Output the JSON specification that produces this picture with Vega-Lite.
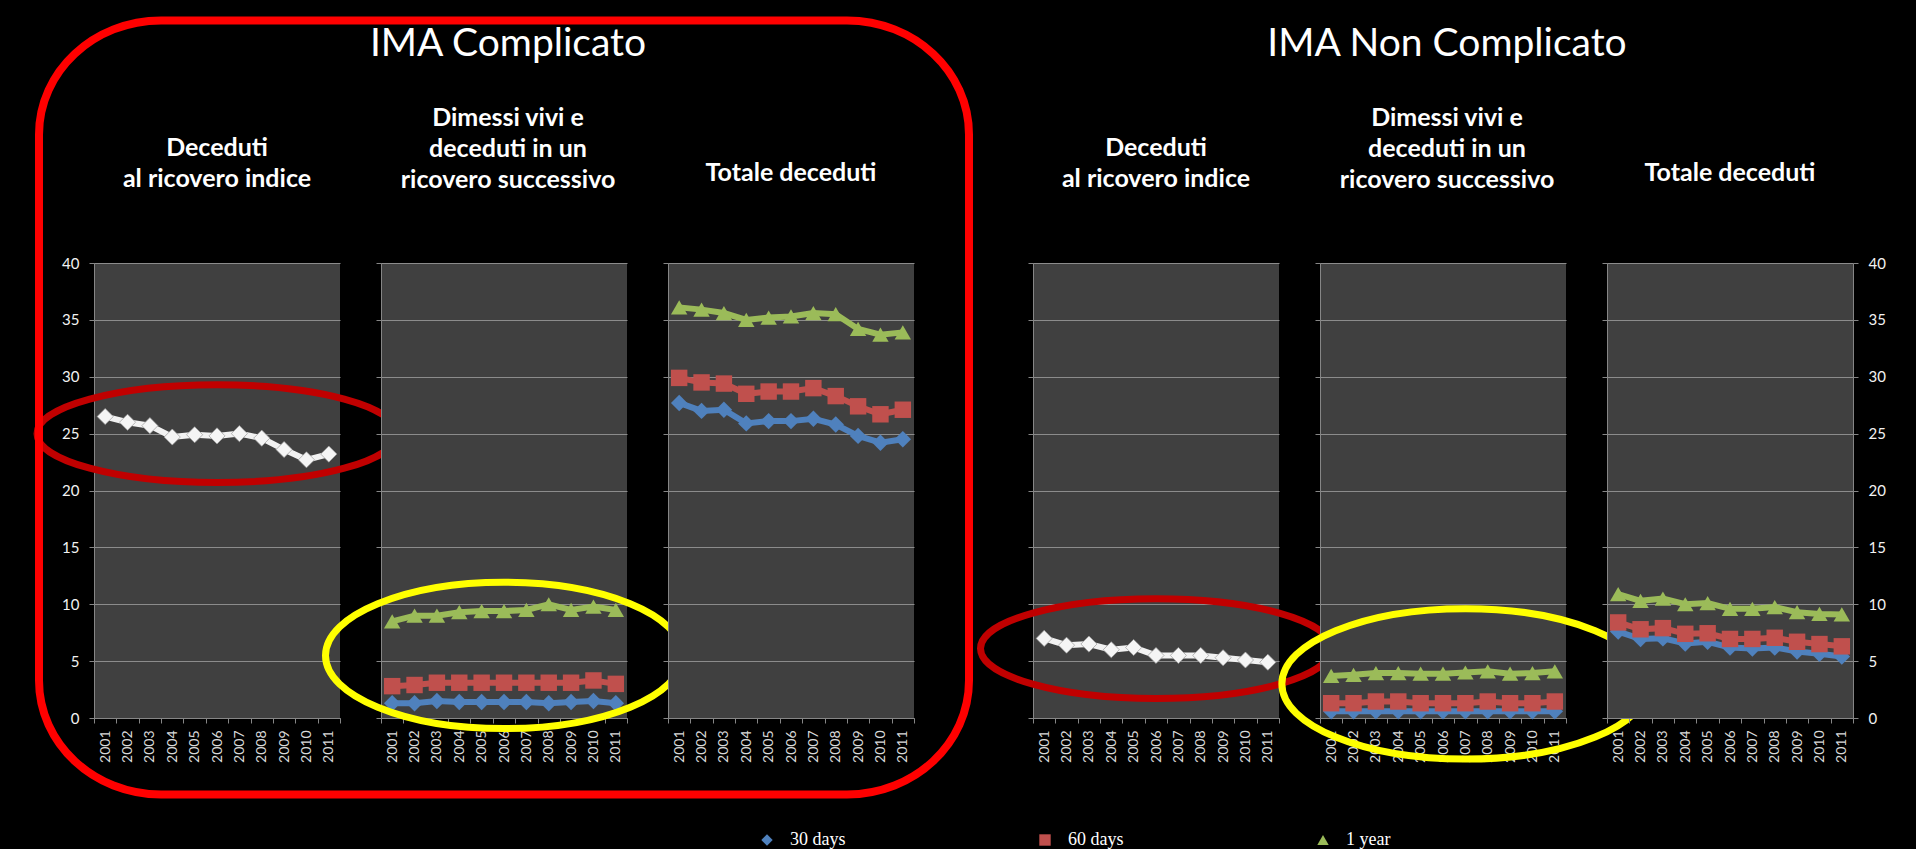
{
  "$schema": "https://vega.github.io/schema/vega-lite/v6.json",
  "background": "black",
  "padding": {"left": 23, "top": 4, "right": 32, "bottom": 0},
  "bounds": "flush",
  "align": "each",
  "columns": 7,
  "spacing": {"row": 0, "column": 41},
  "config": {
    "font": "Lato",
    "view": {"stroke": null, "fill": "#404040"},
    "title": {"color": "white", "subtitleColor": "white", "anchor": "middle", "font": "Lato", "subtitleFont": "Lato"},
    "axis": {"domainColor": "#868686", "tickColor": "#868686", "gridColor": "#8C8C8C", "labelColor": "#F2F2F2", "labelFont": "Lato", "title": null},
    "axisX": {"labelAngle": -90, "tickBand": "extent", "tickSize": 5, "labelPadding": 7, "labelFontSize": 14, "labelColor": "#D9D9D9", "grid": false},
    "axisY": {"tickSize": 5, "labelPadding": 10, "labelFontSize": 15, "grid": true}
  },
  "datasets": {
    "c1": [
      {"serie": "ricovero indice", "anno": 2001, "valore": 26.5}, {"serie": "ricovero indice", "anno": 2002, "valore": 26.0}, {"serie": "ricovero indice", "anno": 2003, "valore": 25.7}, {"serie": "ricovero indice", "anno": 2004, "valore": 24.7}, {"serie": "ricovero indice", "anno": 2005, "valore": 24.9}, {"serie": "ricovero indice", "anno": 2006, "valore": 24.8}, {"serie": "ricovero indice", "anno": 2007, "valore": 25.0}, {"serie": "ricovero indice", "anno": 2008, "valore": 24.6}, {"serie": "ricovero indice", "anno": 2009, "valore": 23.6}, {"serie": "ricovero indice", "anno": 2010, "valore": 22.7}, {"serie": "ricovero indice", "anno": 2011, "valore": 23.2}
    ],
    "c2": [
      {"serie": "30 days", "anno": 2001, "valore": 1.3}, {"serie": "30 days", "anno": 2002, "valore": 1.3}, {"serie": "30 days", "anno": 2003, "valore": 1.5}, {"serie": "30 days", "anno": 2004, "valore": 1.4}, {"serie": "30 days", "anno": 2005, "valore": 1.4}, {"serie": "30 days", "anno": 2006, "valore": 1.4}, {"serie": "30 days", "anno": 2007, "valore": 1.4}, {"serie": "30 days", "anno": 2008, "valore": 1.3}, {"serie": "30 days", "anno": 2009, "valore": 1.4}, {"serie": "30 days", "anno": 2010, "valore": 1.5}, {"serie": "30 days", "anno": 2011, "valore": 1.3},
      {"serie": "60 days", "anno": 2001, "valore": 2.8}, {"serie": "60 days", "anno": 2002, "valore": 2.9}, {"serie": "60 days", "anno": 2003, "valore": 3.1}, {"serie": "60 days", "anno": 2004, "valore": 3.1}, {"serie": "60 days", "anno": 2005, "valore": 3.1}, {"serie": "60 days", "anno": 2006, "valore": 3.1}, {"serie": "60 days", "anno": 2007, "valore": 3.1}, {"serie": "60 days", "anno": 2008, "valore": 3.1}, {"serie": "60 days", "anno": 2009, "valore": 3.1}, {"serie": "60 days", "anno": 2010, "valore": 3.3}, {"serie": "60 days", "anno": 2011, "valore": 3.0},
      {"serie": "1 year", "anno": 2001, "valore": 8.5}, {"serie": "1 year", "anno": 2002, "valore": 9.0}, {"serie": "1 year", "anno": 2003, "valore": 9.0}, {"serie": "1 year", "anno": 2004, "valore": 9.3}, {"serie": "1 year", "anno": 2005, "valore": 9.4}, {"serie": "1 year", "anno": 2006, "valore": 9.4}, {"serie": "1 year", "anno": 2007, "valore": 9.5}, {"serie": "1 year", "anno": 2008, "valore": 10.0}, {"serie": "1 year", "anno": 2009, "valore": 9.5}, {"serie": "1 year", "anno": 2010, "valore": 9.8}, {"serie": "1 year", "anno": 2011, "valore": 9.5}
    ],
    "c3": [
      {"serie": "30 days", "anno": 2001, "valore": 27.7}, {"serie": "30 days", "anno": 2002, "valore": 27.0}, {"serie": "30 days", "anno": 2003, "valore": 27.1}, {"serie": "30 days", "anno": 2004, "valore": 25.9}, {"serie": "30 days", "anno": 2005, "valore": 26.1}, {"serie": "30 days", "anno": 2006, "valore": 26.1}, {"serie": "30 days", "anno": 2007, "valore": 26.3}, {"serie": "30 days", "anno": 2008, "valore": 25.8}, {"serie": "30 days", "anno": 2009, "valore": 24.8}, {"serie": "30 days", "anno": 2010, "valore": 24.2}, {"serie": "30 days", "anno": 2011, "valore": 24.5},
      {"serie": "60 days", "anno": 2001, "valore": 29.9}, {"serie": "60 days", "anno": 2002, "valore": 29.5}, {"serie": "60 days", "anno": 2003, "valore": 29.4}, {"serie": "60 days", "anno": 2004, "valore": 28.5}, {"serie": "60 days", "anno": 2005, "valore": 28.7}, {"serie": "60 days", "anno": 2006, "valore": 28.7}, {"serie": "60 days", "anno": 2007, "valore": 29.0}, {"serie": "60 days", "anno": 2008, "valore": 28.3}, {"serie": "60 days", "anno": 2009, "valore": 27.4}, {"serie": "60 days", "anno": 2010, "valore": 26.7}, {"serie": "60 days", "anno": 2011, "valore": 27.1},
      {"serie": "1 year", "anno": 2001, "valore": 36.1}, {"serie": "1 year", "anno": 2002, "valore": 35.9}, {"serie": "1 year", "anno": 2003, "valore": 35.6}, {"serie": "1 year", "anno": 2004, "valore": 35.0}, {"serie": "1 year", "anno": 2005, "valore": 35.2}, {"serie": "1 year", "anno": 2006, "valore": 35.3}, {"serie": "1 year", "anno": 2007, "valore": 35.6}, {"serie": "1 year", "anno": 2008, "valore": 35.5}, {"serie": "1 year", "anno": 2009, "valore": 34.2}, {"serie": "1 year", "anno": 2010, "valore": 33.7}, {"serie": "1 year", "anno": 2011, "valore": 33.9}
    ],
    "n1": [
      {"serie": "ricovero indice", "anno": 2001, "valore": 7.0}, {"serie": "ricovero indice", "anno": 2002, "valore": 6.4}, {"serie": "ricovero indice", "anno": 2003, "valore": 6.5}, {"serie": "ricovero indice", "anno": 2004, "valore": 6.0}, {"serie": "ricovero indice", "anno": 2005, "valore": 6.2}, {"serie": "ricovero indice", "anno": 2006, "valore": 5.5}, {"serie": "ricovero indice", "anno": 2007, "valore": 5.5}, {"serie": "ricovero indice", "anno": 2008, "valore": 5.5}, {"serie": "ricovero indice", "anno": 2009, "valore": 5.3}, {"serie": "ricovero indice", "anno": 2010, "valore": 5.1}, {"serie": "ricovero indice", "anno": 2011, "valore": 4.9}
    ],
    "n2": [
      {"serie": "30 days", "anno": 2001, "valore": 0.6}, {"serie": "30 days", "anno": 2002, "valore": 0.6}, {"serie": "30 days", "anno": 2003, "valore": 0.6}, {"serie": "30 days", "anno": 2004, "valore": 0.6}, {"serie": "30 days", "anno": 2005, "valore": 0.6}, {"serie": "30 days", "anno": 2006, "valore": 0.6}, {"serie": "30 days", "anno": 2007, "valore": 0.6}, {"serie": "30 days", "anno": 2008, "valore": 0.6}, {"serie": "30 days", "anno": 2009, "valore": 0.6}, {"serie": "30 days", "anno": 2010, "valore": 0.6}, {"serie": "30 days", "anno": 2011, "valore": 0.6},
      {"serie": "60 days", "anno": 2001, "valore": 1.3}, {"serie": "60 days", "anno": 2002, "valore": 1.3}, {"serie": "60 days", "anno": 2003, "valore": 1.45}, {"serie": "60 days", "anno": 2004, "valore": 1.45}, {"serie": "60 days", "anno": 2005, "valore": 1.3}, {"serie": "60 days", "anno": 2006, "valore": 1.3}, {"serie": "60 days", "anno": 2007, "valore": 1.3}, {"serie": "60 days", "anno": 2008, "valore": 1.45}, {"serie": "60 days", "anno": 2009, "valore": 1.3}, {"serie": "60 days", "anno": 2010, "valore": 1.3}, {"serie": "60 days", "anno": 2011, "valore": 1.45},
      {"serie": "1 year", "anno": 2001, "valore": 3.7}, {"serie": "1 year", "anno": 2002, "valore": 3.8}, {"serie": "1 year", "anno": 2003, "valore": 3.95}, {"serie": "1 year", "anno": 2004, "valore": 3.95}, {"serie": "1 year", "anno": 2005, "valore": 3.9}, {"serie": "1 year", "anno": 2006, "valore": 3.9}, {"serie": "1 year", "anno": 2007, "valore": 4.0}, {"serie": "1 year", "anno": 2008, "valore": 4.1}, {"serie": "1 year", "anno": 2009, "valore": 3.9}, {"serie": "1 year", "anno": 2010, "valore": 3.95}, {"serie": "1 year", "anno": 2011, "valore": 4.1}
    ],
    "n3": [
      {"serie": "30 days", "anno": 2001, "valore": 7.6}, {"serie": "30 days", "anno": 2002, "valore": 6.95}, {"serie": "30 days", "anno": 2003, "valore": 7.0}, {"serie": "30 days", "anno": 2004, "valore": 6.55}, {"serie": "30 days", "anno": 2005, "valore": 6.7}, {"serie": "30 days", "anno": 2006, "valore": 6.2}, {"serie": "30 days", "anno": 2007, "valore": 6.1}, {"serie": "30 days", "anno": 2008, "valore": 6.2}, {"serie": "30 days", "anno": 2009, "valore": 5.85}, {"serie": "30 days", "anno": 2010, "valore": 5.65}, {"serie": "30 days", "anno": 2011, "valore": 5.4},
      {"serie": "60 days", "anno": 2001, "valore": 8.4}, {"serie": "60 days", "anno": 2002, "valore": 7.8}, {"serie": "60 days", "anno": 2003, "valore": 7.9}, {"serie": "60 days", "anno": 2004, "valore": 7.4}, {"serie": "60 days", "anno": 2005, "valore": 7.45}, {"serie": "60 days", "anno": 2006, "valore": 6.95}, {"serie": "60 days", "anno": 2007, "valore": 6.95}, {"serie": "60 days", "anno": 2008, "valore": 7.05}, {"serie": "60 days", "anno": 2009, "valore": 6.7}, {"serie": "60 days", "anno": 2010, "valore": 6.5}, {"serie": "60 days", "anno": 2011, "valore": 6.3},
      {"serie": "1 year", "anno": 2001, "valore": 10.9}, {"serie": "1 year", "anno": 2002, "valore": 10.3}, {"serie": "1 year", "anno": 2003, "valore": 10.5}, {"serie": "1 year", "anno": 2004, "valore": 10.0}, {"serie": "1 year", "anno": 2005, "valore": 10.1}, {"serie": "1 year", "anno": 2006, "valore": 9.6}, {"serie": "1 year", "anno": 2007, "valore": 9.6}, {"serie": "1 year", "anno": 2008, "valore": 9.75}, {"serie": "1 year", "anno": 2009, "valore": 9.3}, {"serie": "1 year", "anno": 2010, "valore": 9.15}, {"serie": "1 year", "anno": 2011, "valore": 9.1}
    ]
  },
  "concat": [
    {"data": {"values": []}, "width": 246, "height": 1, "view": {"fill": "transparent", "stroke": null}, "mark": {"type": "text", "text": ""}, "encoding": {},
     "title": {"text": ["Deceduti", "al ricovero indice"], "fontSize": 25, "fontWeight": "bold", "lineHeight": 31, "offset": 70}},
    {"data": {"values": []}, "width": 246, "height": 1, "view": {"fill": "transparent", "stroke": null}, "mark": {"type": "text", "text": ""}, "encoding": {},
     "title": {"text": "IMA Complicato", "subtitle": ["Dimessi vivi e", "deceduti in un", "ricovero successivo"], "fontSize": 39, "fontWeight": "normal", "subtitleFontSize": 25, "subtitleFontWeight": "bold", "subtitleLineHeight": 31, "subtitlePadding": 42, "offset": 69, "dx": 4}},
    {"data": {"values": []}, "width": 246, "height": 1, "view": {"fill": "transparent", "stroke": null}, "mark": {"type": "text", "text": ""}, "encoding": {},
     "title": {"text": "Totale deceduti", "fontSize": 25, "fontWeight": "bold", "offset": 76}},
    {"data": {"values": []}, "width": 37, "height": 1, "view": {"fill": "transparent", "stroke": null}, "mark": {"type": "text", "text": ""}, "encoding": {}},
    {"data": {"values": []}, "width": 246, "height": 1, "view": {"fill": "transparent", "stroke": null}, "mark": {"type": "text", "text": ""}, "encoding": {},
     "title": {"text": ["Deceduti", "al ricovero indice"], "fontSize": 25, "fontWeight": "bold", "lineHeight": 31, "offset": 70}},
    {"data": {"values": []}, "width": 246, "height": 1, "view": {"fill": "transparent", "stroke": null}, "mark": {"type": "text", "text": ""}, "encoding": {},
     "title": {"text": "IMA Non Complicato", "subtitle": ["Dimessi vivi e", "deceduti in un", "ricovero successivo"], "fontSize": 39, "fontWeight": "normal", "subtitleFontSize": 25, "subtitleFontWeight": "bold", "subtitleLineHeight": 31, "subtitlePadding": 42, "offset": 69, "dx": 4}},
    {"data": {"values": []}, "width": 246, "height": 1, "view": {"fill": "transparent", "stroke": null}, "mark": {"type": "text", "text": ""}, "encoding": {},
     "title": {"text": "Totale deceduti", "fontSize": 25, "fontWeight": "bold", "offset": 76}},
    {
      "data": {"name": "c1"},
      "width": 246, "height": 455,
      "encoding": {
        "x": {"field": "anno", "type": "ordinal", "scale": {"type": "band", "paddingInner": 0, "paddingOuter": 0}},
        "y": {"field": "valore", "type": "quantitative", "scale": {"domain": [0, 40], "nice": false}, "axis": {"values": [0, 5, 10, 15, 20, 25, 30, 35, 40]}}
      },
      "layer": [
        {"mark": {"type": "line", "strokeWidth": 6, "color": "#F2F2F2"}, "encoding": {}},
        {"mark": {"type": "point", "shape": "diamond", "filled": true, "opacity": 1, "size": 260, "color": "#F5F5F5", "stroke": "#9A9A9A", "strokeWidth": 0.7}, "encoding": {}},
        {"transform": [{"filter": "datum.anno == 2006"}], "mark": {"type": "point", "shape": "M 1 0 C 1 0.1501 0.5523 0.2717 0 0.2717 C -0.5523 0.2717 -1 0.1501 -1 0 C -1 -0.1501 -0.5523 -0.2717 0 -0.2717 C 0.5523 -0.2717 1 -0.1501 1 0 Z", "size": 129600, "filled": false, "color": "#C00000", "strokeWidth": 7, "opacity": 1}, "encoding": {"x": {"datum": 2006}, "y": {"datum": 25.0}}}
      ]
    },
    {
      "data": {"name": "c2"},
      "width": 246, "height": 455,
      "encoding": {
        "x": {"field": "anno", "type": "ordinal", "scale": {"type": "band", "paddingInner": 0, "paddingOuter": 0}},
        "y": {"field": "valore", "type": "quantitative", "scale": {"domain": [0, 40], "nice": false}, "axis": {"values": [0, 5, 10, 15, 20, 25, 30, 35, 40], "labels": false}}
      },
      "layer": [
        {"mark": {"type": "line", "strokeWidth": 6}, "encoding": {"color": {"field": "serie", "type": "nominal", "scale": {"domain": ["30 days", "60 days", "1 year"], "range": ["#4F81BD", "#C0504D", "#9BBB59"]}, "legend": {"orient": "none", "legendX": 664, "legendY": 569, "direction": "horizontal", "title": null, "labelFont": "Liberation Serif", "labelFontSize": 18, "labelColor": "white", "columnPadding": 190, "symbolSize": 130, "labelOffset": 14, "padding": 0, "symbolStrokeWidth": 0}}}},
        {"mark": {"type": "point", "filled": true, "opacity": 1, "size": 270}, "encoding": {"color": {"field": "serie", "type": "nominal", "scale": {"domain": ["30 days", "60 days", "1 year"], "range": ["#4F81BD", "#C0504D", "#9BBB59"]}, "legend": {"orient": "none", "legendX": 664, "legendY": 569, "direction": "horizontal", "title": null, "labelFont": "Liberation Serif", "labelFontSize": 18, "labelColor": "white", "columnPadding": 190, "symbolSize": 130, "labelOffset": 14, "padding": 0, "symbolStrokeWidth": 0}}, "shape": {"field": "serie", "type": "nominal", "scale": {"domain": ["30 days", "60 days", "1 year"], "range": ["diamond", "square", "triangle-up"]}, "legend": {"orient": "none", "legendX": 664, "legendY": 569, "direction": "horizontal", "title": null, "labelFont": "Liberation Serif", "labelFontSize": 18, "labelColor": "white", "columnPadding": 190, "symbolSize": 130, "labelOffset": 14, "padding": 0, "symbolStrokeWidth": 0}}}},
        {"transform": [{"filter": "datum.anno == 2006 && datum.serie == '1 year'"}], "mark": {"type": "point", "shape": "M 1 0 C 1 0.2264 0.5523 0.41 0 0.41 C -0.5523 0.41 -1 0.2264 -1 0 C -1 -0.2264 -0.5523 -0.41 0 -0.41 C 0.5523 -0.41 1 -0.2264 1 0 Z", "size": 127449, "filled": false, "color": "#FFFF00", "strokeWidth": 7, "opacity": 1}, "encoding": {"x": {"datum": 2006}, "y": {"datum": 5.5}}},
        {"transform": [{"filter": "datum.anno == 2006 && datum.serie == '1 year'"}], "mark": {"type": "point", "shape": "M -0.7376 -0.8323 L 0.7376 -0.8323 C 0.8825 -0.8323 1 -0.7225 1 -0.5871 L 1 0.5871 C 1 0.7225 0.8825 0.8323 0.7376 0.8323 L -0.7376 0.8323 C -0.8825 0.8323 -1 0.7225 -1 0.5871 L -1 -0.5871 C -1 -0.7225 -0.8825 -0.8323 -0.7376 -0.8323 Z", "size": 864900, "filled": false, "color": "#FF0000", "strokeWidth": 8, "opacity": 1}, "encoding": {"x": {"datum": 2006}, "y": {"datum": 27.3}}}
      ]
    },
    {
      "data": {"name": "c3"},
      "width": 246, "height": 455,
      "encoding": {
        "x": {"field": "anno", "type": "ordinal", "scale": {"type": "band", "paddingInner": 0, "paddingOuter": 0}},
        "y": {"field": "valore", "type": "quantitative", "scale": {"domain": [0, 40], "nice": false}, "axis": {"values": [0, 5, 10, 15, 20, 25, 30, 35, 40], "labels": false}}
      },
      "layer": [
        {"mark": {"type": "line", "strokeWidth": 6}, "encoding": {"color": {"field": "serie", "type": "nominal", "scale": {"domain": ["30 days", "60 days", "1 year"], "range": ["#4F81BD", "#C0504D", "#9BBB59"]}, "legend": {"orient": "none", "legendX": 664, "legendY": 569, "direction": "horizontal", "title": null, "labelFont": "Liberation Serif", "labelFontSize": 18, "labelColor": "white", "columnPadding": 190, "symbolSize": 130, "labelOffset": 14, "padding": 0, "symbolStrokeWidth": 0}}}},
        {"mark": {"type": "point", "filled": true, "opacity": 1, "size": 270}, "encoding": {"color": {"field": "serie", "type": "nominal", "scale": {"domain": ["30 days", "60 days", "1 year"], "range": ["#4F81BD", "#C0504D", "#9BBB59"]}, "legend": {"orient": "none", "legendX": 664, "legendY": 569, "direction": "horizontal", "title": null, "labelFont": "Liberation Serif", "labelFontSize": 18, "labelColor": "white", "columnPadding": 190, "symbolSize": 130, "labelOffset": 14, "padding": 0, "symbolStrokeWidth": 0}}, "shape": {"field": "serie", "type": "nominal", "scale": {"domain": ["30 days", "60 days", "1 year"], "range": ["diamond", "square", "triangle-up"]}, "legend": {"orient": "none", "legendX": 664, "legendY": 569, "direction": "horizontal", "title": null, "labelFont": "Liberation Serif", "labelFontSize": 18, "labelColor": "white", "columnPadding": 190, "symbolSize": 130, "labelOffset": 14, "padding": 0, "symbolStrokeWidth": 0}}}}
      ]
    },
    {"data": {"values": []}, "width": 37, "height": 455, "view": {"fill": "transparent", "stroke": null}, "mark": {"type": "text", "text": ""}, "encoding": {}},
    {
      "data": {"name": "n1"},
      "width": 246, "height": 455,
      "encoding": {
        "x": {"field": "anno", "type": "ordinal", "scale": {"type": "band", "paddingInner": 0, "paddingOuter": 0}},
        "y": {"field": "valore", "type": "quantitative", "scale": {"domain": [0, 40], "nice": false}, "axis": {"values": [0, 5, 10, 15, 20, 25, 30, 35, 40], "labels": false}}
      },
      "layer": [
        {"mark": {"type": "line", "strokeWidth": 6, "color": "#F2F2F2"}, "encoding": {}},
        {"mark": {"type": "point", "shape": "diamond", "filled": true, "opacity": 1, "size": 260, "color": "#F5F5F5", "stroke": "#9A9A9A", "strokeWidth": 0.7}, "encoding": {}},
        {"transform": [{"filter": "datum.anno == 2006"}], "mark": {"type": "point", "shape": "M 1 0 C 1 0.1569 0.5523 0.284 0 0.284 C -0.5523 0.284 -1 0.1569 -1 0 C -1 -0.1569 -0.5523 -0.284 0 -0.284 C 0.5523 -0.284 1 -0.1569 1 0 Z", "size": 123201, "filled": false, "color": "#C00000", "strokeWidth": 7, "opacity": 1}, "encoding": {"x": {"datum": 2006}, "y": {"datum": 6.1}}}
      ]
    },
    {
      "data": {"name": "n2"},
      "width": 246, "height": 455,
      "encoding": {
        "x": {"field": "anno", "type": "ordinal", "scale": {"type": "band", "paddingInner": 0, "paddingOuter": 0}},
        "y": {"field": "valore", "type": "quantitative", "scale": {"domain": [0, 40], "nice": false}, "axis": {"values": [0, 5, 10, 15, 20, 25, 30, 35, 40], "labels": false}}
      },
      "layer": [
        {"mark": {"type": "line", "strokeWidth": 6}, "encoding": {"color": {"field": "serie", "type": "nominal", "scale": {"domain": ["30 days", "60 days", "1 year"], "range": ["#4F81BD", "#C0504D", "#9BBB59"]}, "legend": {"orient": "none", "legendX": 664, "legendY": 569, "direction": "horizontal", "title": null, "labelFont": "Liberation Serif", "labelFontSize": 18, "labelColor": "white", "columnPadding": 190, "symbolSize": 130, "labelOffset": 14, "padding": 0, "symbolStrokeWidth": 0}}}},
        {"mark": {"type": "point", "filled": true, "opacity": 1, "size": 270}, "encoding": {"color": {"field": "serie", "type": "nominal", "scale": {"domain": ["30 days", "60 days", "1 year"], "range": ["#4F81BD", "#C0504D", "#9BBB59"]}, "legend": {"orient": "none", "legendX": 664, "legendY": 569, "direction": "horizontal", "title": null, "labelFont": "Liberation Serif", "labelFontSize": 18, "labelColor": "white", "columnPadding": 190, "symbolSize": 130, "labelOffset": 14, "padding": 0, "symbolStrokeWidth": 0}}, "shape": {"field": "serie", "type": "nominal", "scale": {"domain": ["30 days", "60 days", "1 year"], "range": ["diamond", "square", "triangle-up"]}, "legend": {"orient": "none", "legendX": 664, "legendY": 569, "direction": "horizontal", "title": null, "labelFont": "Liberation Serif", "labelFontSize": 18, "labelColor": "white", "columnPadding": 190, "symbolSize": 130, "labelOffset": 14, "padding": 0, "symbolStrokeWidth": 0}}}},
        {"transform": [{"filter": "datum.anno == 2007 && datum.serie == '1 year'"}], "mark": {"type": "point", "shape": "M 1 0 C 1 0.2264 0.5523 0.41 0 0.41 C -0.5523 0.41 -1 0.2264 -1 0 C -1 -0.2264 -0.5523 -0.41 0 -0.41 C 0.5523 -0.41 1 -0.2264 1 0 Z", "size": 134689, "filled": false, "color": "#FFFF00", "strokeWidth": 7, "opacity": 1}, "encoding": {"x": {"datum": 2007}, "y": {"datum": 3.0}}}
      ]
    },
    {
      "data": {"name": "n3"},
      "width": 246, "height": 455,
      "encoding": {
        "x": {"field": "anno", "type": "ordinal", "scale": {"type": "band", "paddingInner": 0, "paddingOuter": 0}}
      },
      "layer": [
        {"mark": {"type": "line", "strokeWidth": 6}, "encoding": {"y": {"field": "valore", "type": "quantitative", "scale": {"domain": [0, 40], "nice": false}, "axis": {"values": [0, 5, 10, 15, 20, 25, 30, 35, 40], "labels": false}}, "color": {"field": "serie", "type": "nominal", "scale": {"domain": ["30 days", "60 days", "1 year"], "range": ["#4F81BD", "#C0504D", "#9BBB59"]}, "legend": {"orient": "none", "legendX": 664, "legendY": 569, "direction": "horizontal", "title": null, "labelFont": "Liberation Serif", "labelFontSize": 18, "labelColor": "white", "columnPadding": 190, "symbolSize": 130, "labelOffset": 14, "padding": 0, "symbolStrokeWidth": 0}}}},
        {"mark": {"type": "point", "filled": true, "opacity": 1, "size": 270}, "encoding": {"y": {"field": "valore", "type": "quantitative", "scale": {"domain": [0, 40], "nice": false}, "axis": {"orient": "right", "values": [0, 5, 10, 15, 20, 25, 30, 35, 40], "grid": false, "labels": true}}, "color": {"field": "serie", "type": "nominal", "scale": {"domain": ["30 days", "60 days", "1 year"], "range": ["#4F81BD", "#C0504D", "#9BBB59"]}, "legend": {"orient": "none", "legendX": 664, "legendY": 569, "direction": "horizontal", "title": null, "labelFont": "Liberation Serif", "labelFontSize": 18, "labelColor": "white", "columnPadding": 190, "symbolSize": 130, "labelOffset": 14, "padding": 0, "symbolStrokeWidth": 0}}, "shape": {"field": "serie", "type": "nominal", "scale": {"domain": ["30 days", "60 days", "1 year"], "range": ["diamond", "square", "triangle-up"]}, "legend": {"orient": "none", "legendX": 664, "legendY": 569, "direction": "horizontal", "title": null, "labelFont": "Liberation Serif", "labelFontSize": 18, "labelColor": "white", "columnPadding": 190, "symbolSize": 130, "labelOffset": 14, "padding": 0, "symbolStrokeWidth": 0}}}}
      ],
      "resolve": {"axis": {"y": "independent"}}
    }
  ]
}
